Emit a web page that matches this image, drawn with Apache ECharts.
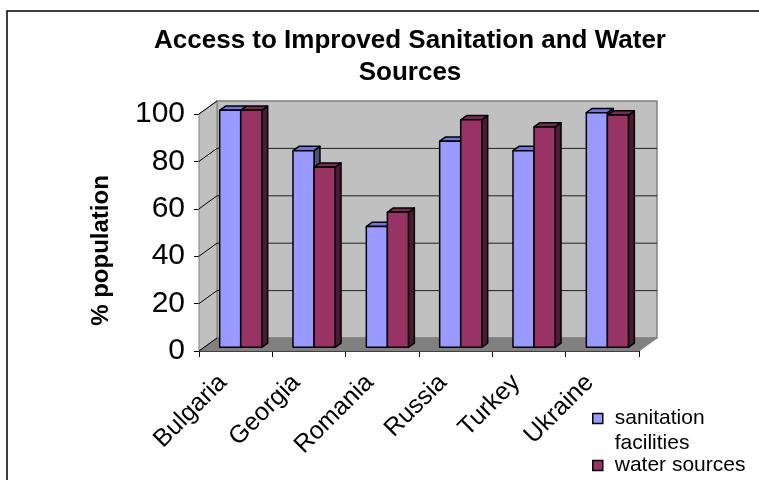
<!DOCTYPE html>
<html>
<head>
<meta charset="utf-8">
<script src="https://cdn.jsdelivr.net/npm/echarts@6/dist/echarts.min.js"></script>
<style>
  html, body { margin: 0; padding: 0; background: #fff; }
  #chart { width: 759px; height: 480px; }
</style>
</head>
<body>
<div id="chart"></div>
<script>
// Country categories and percentage of population with access
const countries = ['Bulgaria', 'Georgia', 'Romania', 'Russia', 'Turkey', 'Ukraine'];
const sanitation = [100, 83, 51, 87, 83, 99];
const water = [100, 76, 57, 96, 93, 98];
const yTicks = [0, 20, 40, 60, 80, 100];
const seriesNames = ['sanitation facilities', 'water sources'];

const FONT = 'Liberation Sans, Arial, sans-serif';

// Depth of the 3D box (pixel offset from front plane to back wall)
const DX = 18, DY = -13;
// Bars sit between these depth fractions
const BAR_T0 = 0.28, BAR_T1 = 0.61;

const faceColors = [
  { front: '#9999FF', top: '#7373D9', side: '#4D4D80' },
  { front: '#993366', top: '#7A2952', side: '#4D1A33' }
];

function renderWalls(params, api) {
  const cs = params.coordSys;
  const x0 = cs.x, x1 = cs.x + cs.width;
  const yb = api.coord([0, yTicks[0]])[1];
  const yt = api.coord([0, yTicks[yTicks.length - 1]])[1];
  const children = [];
  // back wall
  children.push({
    type: 'rect',
    shape: { x: x0 + DX, y: yt + DY, width: x1 - x0, height: yb - yt },
    style: { fill: '#C0C0C0', stroke: '#808080', lineWidth: 1.5 }
  });
  // left side wall
  children.push({
    type: 'polygon',
    shape: { points: [[x0, yt], [x0 + DX, yt + DY], [x0 + DX, yb + DY], [x0, yb]] },
    style: { fill: '#C0C0C0', stroke: '#808080', lineWidth: 1 }
  });
  // floor
  children.push({
    type: 'polygon',
    shape: { points: [[x0, yb], [x1, yb], [x1 + DX, yb + DY], [x0 + DX, yb + DY]] },
    style: { fill: '#808080', stroke: '#808080', lineWidth: 1 }
  });
  // gridlines on back and side walls
  yTicks.forEach(function (v, i) {
    if (i === 0 || i === yTicks.length - 1) return;
    const y = api.coord([0, v])[1];
    children.push({
      type: 'line',
      shape: { x1: x0 + DX, y1: y + DY, x2: x1 + DX, y2: y + DY },
      style: { stroke: '#202020', lineWidth: 1 }
    });
  });
  yTicks.forEach(function (v) {
    const y = api.coord([0, v])[1];
    children.push({
      type: 'line',
      shape: { x1: x0, y1: y, x2: x0 + DX, y2: y + DY },
      style: { stroke: '#000', lineWidth: 1 }
    });
  });
  return { type: 'group', children: children };
}

function makeBarRenderer(sIdx) {
  return function (params, api) {
    const cat = api.value(0);
    const val = api.value(1);
    const base = api.coord([cat, 0]);
    const top = api.coord([cat, val]);
    const bandW = api.size([1, 0])[0];
    const barW = bandW * 0.287;
    const fx = BAR_T0 * DX, fy = BAR_T0 * DY;
    const bdx = (BAR_T1 - BAR_T0) * DX, bdy = (BAR_T1 - BAR_T0) * DY;
    const x0 = base[0] + (sIdx === 0 ? -barW : 0) + fx;
    const yT = top[1] + fy, yB = base[1] + fy;
    const c = faceColors[sIdx];
    const stroke = { stroke: '#000', lineWidth: 1.5, lineJoin: 'round' };
    return {
      type: 'group',
      children: [
        {
          type: 'polygon',
          shape: { points: [[x0 + barW, yT], [x0 + barW + bdx, yT + bdy], [x0 + barW + bdx, yB + bdy], [x0 + barW, yB]] },
          style: Object.assign({ fill: c.side }, stroke)
        },
        {
          type: 'polygon',
          shape: { points: [[x0, yT], [x0 + barW, yT], [x0 + barW + bdx, yT + bdy], [x0 + bdx, yT + bdy]] },
          style: Object.assign({ fill: c.top }, stroke)
        },
        {
          type: 'rect',
          shape: { x: x0, y: yT, width: barW, height: yB - yT },
          style: Object.assign({ fill: c.front }, stroke)
        }
      ]
    };
  };
}

function pairs(values) {
  return values.map(function (v, i) { return [i, v]; });
}

const chart = echarts.init(document.getElementById('chart'), null, { renderer: 'canvas' });

chart.setOption({
  animation: false,
  backgroundColor: '#ffffff',
  title: {
    text: 'Access to Improved Sanitation and Water\nSources',
    left: 405,
    top: 20,
    textAlign: 'center',
    textStyle: { fontFamily: FONT, fontSize: 26, fontWeight: 'bold', color: '#000', lineHeight: 32 }
  },
  graphic: [
    {
      type: 'rect',
      shape: { x: 7, y: 11, width: 800, height: 520 },
      style: { fill: 'none', stroke: '#000', lineWidth: 1.5 },
      silent: true
    }
  ],
  legend: {
    orient: 'vertical',
    left: 587,
    top: 376,
    itemWidth: 10,
    itemHeight: 10,
    itemGap: -3,
    data: [
      { name: seriesNames[0], icon: 'rect', itemStyle: { color: faceColors[0].front, borderColor: '#000', borderWidth: 1.5 } },
      { name: seriesNames[1], icon: 'rect', itemStyle: { color: faceColors[1].front, borderColor: '#000', borderWidth: 1.5 } }
    ],
    formatter: function (name) {
      return name === seriesNames[0] ? '\nsanitation\nfacilities' : name;
    },
    textStyle: { fontFamily: FONT, fontSize: 21, color: '#000', lineHeight: 25, padding: [0, 0, 0, 7] }
  },
  grid: { left: 199, right: 120, top: 114, bottom: 129 },
  xAxis: {
    type: 'category',
    data: countries,
    boundaryGap: true,
    axisLine: { show: true, lineStyle: { color: '#000', width: 1 } },
    axisTick: { show: true, length: 6, lineStyle: { color: '#000' } },
    axisLabel: { rotate: 45, margin: 15, fontFamily: FONT, fontSize: 25, color: '#000', padding: [0, 18, 0, 0] },
    splitLine: { show: false }
  },
  yAxis: {
    type: 'value',
    min: 0,
    max: 100,
    interval: 20,
    name: '% population',
    nameLocation: 'middle',
    nameGap: 86,
    nameRotate: 90,
    nameTextStyle: { fontFamily: FONT, fontSize: 24, fontWeight: 'bold', color: '#000', padding: [0, 36, 0, 0] },
    axisLine: { show: true, lineStyle: { color: '#000', width: 1 } },
    axisTick: { show: true, length: 5, lineStyle: { color: '#000' } },
    axisLabel: { margin: 14, fontFamily: FONT, fontSize: 30, color: '#000' },
    splitLine: { show: false }
  },
  series: [
    {
      name: 'walls',
      type: 'custom',
      renderItem: renderWalls,
      data: [[0, 0]],
      silent: true,
      z: 1
    },
    {
      name: seriesNames[0],
      type: 'custom',
      renderItem: makeBarRenderer(0),
      data: pairs(sanitation),
      encode: { x: 0, y: 1 },
      itemStyle: { color: faceColors[0].front },
      z: 2
    },
    {
      name: seriesNames[1],
      type: 'custom',
      renderItem: makeBarRenderer(1),
      data: pairs(water),
      encode: { x: 0, y: 1 },
      itemStyle: { color: faceColors[1].front },
      z: 3
    }
  ]
});
</script>
</body>
</html>
